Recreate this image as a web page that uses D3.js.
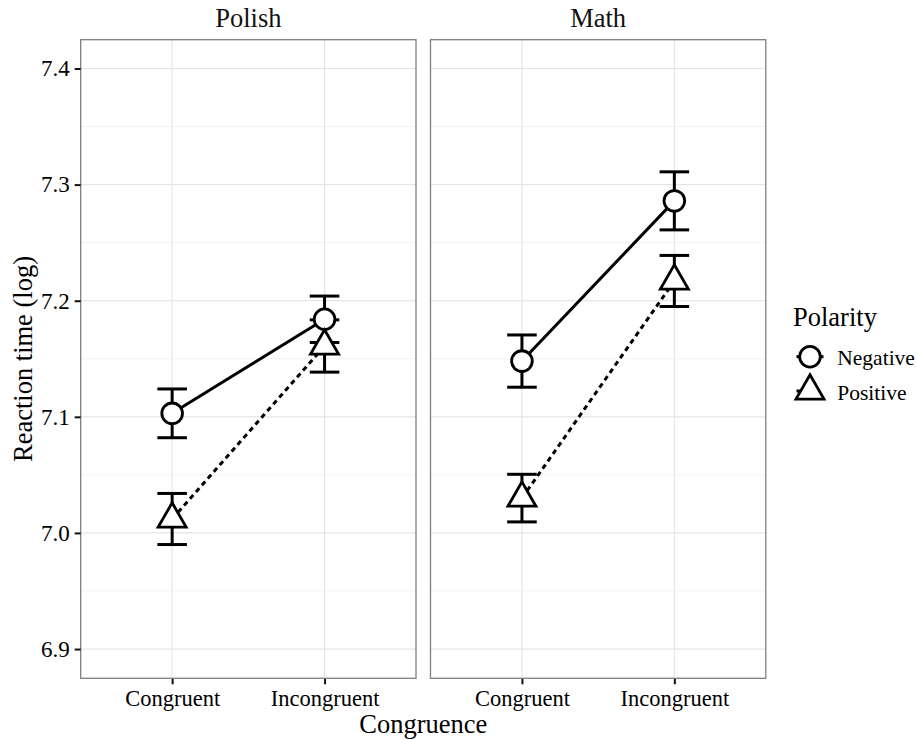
<!DOCTYPE html>
<html>
<head>
<meta charset="utf-8">
<script src="https://cdn.jsdelivr.net/npm/d3@7"></script>
<style>
  body { margin: 0; background: #fff; }
  svg { font-family: "Liberation Serif", serif; }
</style>
</head>
<body>
<svg width="917" height="740"></svg>
<script>
// data
var subjects = ['Polish', 'Math'];
var congruence = ['Congruent', 'Incongruent'];
var polarity = ['Negative', 'Positive'];

var polishNegative = [7.103, 7.184];
var polishNegativeErr = [0.021, 0.020];
var polishPositive = [7.012, 7.161];
var polishPositiveErr = [0.022, 0.0225];
var mathNegative = [7.148, 7.286];
var mathNegativeErr = [0.0225, 0.025];
var mathPositive = [7.030, 7.217];
var mathPositiveErr = [0.0205, 0.022];

var yTicks = [6.9, 7.0, 7.1, 7.2, 7.3, 7.4];
var yMinor = [6.95, 7.05, 7.15, 7.25, 7.35];

var series = {
  Polish: {
    Negative: { mean: polishNegative, err: polishNegativeErr },
    Positive: { mean: polishPositive, err: polishPositiveErr }
  },
  Math: {
    Negative: { mean: mathNegative, err: mathNegativeErr },
    Positive: { mean: mathPositive, err: mathPositiveErr }
  }
};

var svg = d3.select('svg');

var panelX = [80.7, 430.5];
var panelW = 335.3;
var panelTop = 39.7, panelBottom = 678.3;

var y = d3.scaleLinear()
  .domain([6.8748, 7.4248])
  .range([panelBottom, panelTop]);

var x = d3.scalePoint()
  .domain(congruence)
  .range([0, panelW])
  .padding(0.6);

var symbols = {
  Negative: d3.symbol().type(d3.symbolCircle).size(335),
  Positive: d3.symbol().type(d3.symbolTriangle).size(340)
};
var dashes = { Negative: null, Positive: '5,4' };
var lw = 3;

subjects.forEach(function(subj, p) {
  var g = svg.append('g')
    .attr('transform', `translate(${panelX[p]},0)`);

  // grid
  g.selectAll('.minor')
    .data(yMinor)
    .enter().append('line')
    .attr('x1', 0).attr('x2', panelW)
    .attr('y1', d => y(d)).attr('y2', d => y(d))
    .attr('stroke', '#f2f2f2').attr('stroke-width', 1);

  g.selectAll('.major')
    .data(yTicks)
    .enter().append('line')
    .attr('x1', 0).attr('x2', panelW)
    .attr('y1', d => y(d)).attr('y2', d => y(d))
    .attr('stroke', '#e5e5e5').attr('stroke-width', 1.2);

  g.selectAll('.vmajor')
    .data(congruence)
    .enter().append('line')
    .attr('x1', d => x(d)).attr('x2', d => x(d))
    .attr('y1', panelTop).attr('y2', panelBottom)
    .attr('stroke', '#e5e5e5').attr('stroke-width', 1.2);

  // strip title
  g.append('text')
    .attr('x', panelW / 2)
    .attr('y', 26.7)
    .attr('text-anchor', 'middle')
    .style('font-size', '26.5px')
    .attr('fill', '#111')
    .text(subj);

  // x axis
  var xAxis = g.append('g')
    .attr('transform', `translate(0,${panelBottom})`)
    .call(d3.axisBottom(x).tickSize(6).tickPadding(6));
  xAxis.select('.domain').remove();
  xAxis.selectAll('line').attr('stroke', '#111').attr('stroke-width', 2);
  xAxis.selectAll('text')
    .attr('fill', '#000')
    .style('font-family', '"Liberation Serif", serif')
    .style('font-size', '22.5px');

  var line = d3.line()
    .x(function(d, i) { return x(congruence[i]); })
    .y(function(d) { return y(d); });

  // error bars
  polarity.forEach(function(pol) {
    var s = series[subj][pol];
    var eb = g.append('g');
    s.mean.forEach(function(m, i) {
      var cx = x(congruence[i]);
      var lo = y(m - s.err[i]), hi = y(m + s.err[i]);
      eb.append('line')
        .attr('x1', cx).attr('x2', cx).attr('y1', lo).attr('y2', hi)
        .attr('stroke', '#000').attr('stroke-width', lw);
      [lo, hi].forEach(function(yy) {
        eb.append('line')
          .attr('x1', cx - 14.8).attr('x2', cx + 14.8)
          .attr('y1', yy).attr('y2', yy)
          .attr('stroke', '#000').attr('stroke-width', lw);
      });
    });
  });

  // lines
  polarity.forEach(function(pol) {
    g.append('path')
      .attr('d', line(series[subj][pol].mean))
      .attr('fill', 'none')
      .attr('stroke', '#000')
      .attr('stroke-width', lw)
      .attr('stroke-dasharray', dashes[pol]);
  });

  // points
  polarity.forEach(function(pol) {
    g.selectAll('.pt-' + pol)
      .data(series[subj][pol].mean)
      .enter().append('path')
      .attr('transform', function(d, i) { return `translate(${x(congruence[i])},${y(d)})`; })
      .attr('d', symbols[pol])
      .attr('fill', '#fff')
      .attr('stroke', '#000')
      .attr('stroke-width', 2.8);
  });

  // panel border
  g.append('rect')
    .attr('x', 0).attr('y', panelTop)
    .attr('width', panelW).attr('height', panelBottom - panelTop)
    .attr('fill', 'none')
    .attr('stroke', '#7f7f7f')
    .attr('stroke-width', 1.3);
});

// y axis
var yAxis = svg.append('g')
  .attr('transform', `translate(${panelX[0]},0)`)
  .call(d3.axisLeft(y).tickValues(yTicks).tickFormat(d3.format('.1f')).tickSize(6).tickPadding(5));
yAxis.select('.domain').remove();
yAxis.selectAll('line').attr('stroke', '#111').attr('stroke-width', 2);
yAxis.selectAll('text')
  .attr('fill', '#000')
  .style('font-family', '"Liberation Serif", serif')
  .style('font-size', '23px');

// axis titles
svg.append('text')
  .attr('x', (panelX[0] + panelX[1] + panelW) / 2)
  .attr('y', 733)
  .attr('text-anchor', 'middle')
  .style('font-size', '26.5px')
  .text('Congruence');

svg.append('text')
  .attr('transform', `translate(32,${(panelTop + panelBottom) / 2}) rotate(-90)`)
  .attr('text-anchor', 'middle')
  .style('font-size', '26.5px')
  .text('Reaction time (log)');

// legend
var legend = svg.append('g');
legend.append('text')
  .attr('x', 793)
  .attr('y', 326)
  .style('font-size', '26.5px')
  .text('Polarity');

var keyY = [356.7, 391];
polarity.forEach(function(pol, i) {
  var k = legend.append('g').attr('transform', `translate(810,${keyY[i]})`);
  k.append('line')
    .attr('x1', -13.5).attr('x2', 13.5)
    .attr('stroke', '#000').attr('stroke-width', lw)
    .attr('stroke-dasharray', dashes[pol]);
  k.append('path')
    .attr('d', symbols[pol])
    .attr('fill', '#fff')
    .attr('stroke', '#000')
    .attr('stroke-width', 2.8);
  legend.append('text')
    .attr('x', 837.3)
    .attr('y', keyY[i] + 8.5)
    .style('font-size', '21.5px')
    .text(pol);
});
</script>
</body>
</html>
